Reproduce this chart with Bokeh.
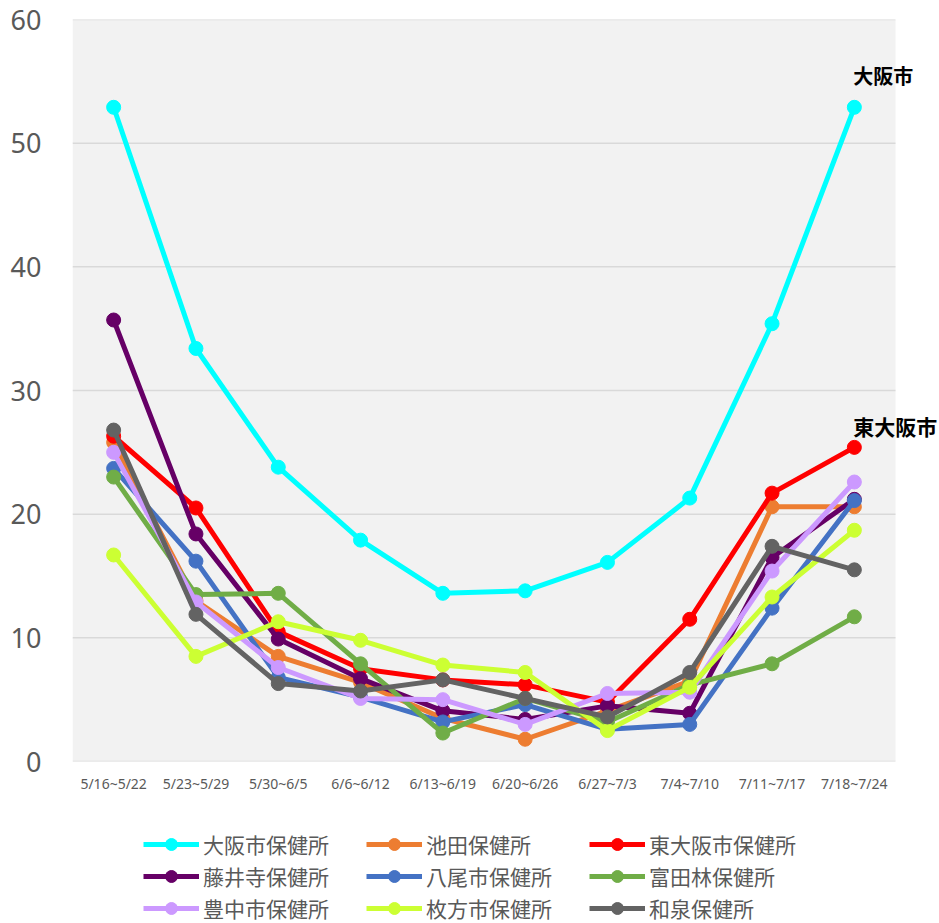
from bokeh.plotting import figure
from bokeh.layouts import column
from bokeh.models import (ColumnDataSource, Legend, LegendItem, Range1d, Label,
                          FixedTicker, BoxAnnotation)
from bokeh.embed import file_html
from bokeh.resources import INLINE

cats = ["5/16~5/22", "5/23~5/29", "5/30~6/5", "6/6~6/12", "6/13~6/19",
        "6/20~6/26", "6/27~7/3", "7/4~7/10", "7/11~7/17", "7/18~7/24"]

osaka = [52.9, 33.4, 23.8, 17.9, 13.6, 13.8, 16.1, 21.3, 35.4, 52.9]
ikeda = [25.8, 13.0, 8.5, 6.4, 3.5, 1.8, 4.1, 6.5, 20.6, 20.6]
higashiosaka = [26.3, 20.5, 10.5, 7.5, 6.6, 6.2, 4.8, 11.5, 21.7, 25.4]
fujiidera = [35.7, 18.4, 9.9, 6.7, 4.1, 3.4, 4.5, 3.9, 16.5, 21.2]
yao = [23.7, 16.2, 6.8, 5.2, 3.2, 4.6, 2.6, 3.0, 12.4, 21.1]
tondabayashi = [23.0, 13.5, 13.6, 7.9, 2.3, 5.1, 3.2, 6.2, 7.9, 11.7]
toyonaka = [25.0, 12.9, 7.6, 5.1, 5.0, 3.0, 5.5, 5.6, 15.4, 22.6]
hirakata = [16.7, 8.5, 11.3, 9.8, 7.8, 7.2, 2.5, 6.0, 13.3, 18.7]
izumi = [26.8, 11.9, 6.3, 5.7, 6.6, 5.1, 3.6, 7.2, 17.4, 15.5]

names = ["大阪市保健所", "池田保健所", "東大阪市保健所",
         "藤井寺保健所", "八尾市保健所", "富田林保健所",
         "豊中市保健所", "枚方市保健所", "和泉保健所"]
series = [osaka, ikeda, higashiosaka, fujiidera, yao, tondabayashi,
          toyonaka, hirakata, izumi]
colors = ["#00FFFF", "#ED7D31", "#FF0000", "#660066", "#4472C4", "#70AD47",
          "#CC99FF", "#CCFF33", "#636363"]

callouts = ["大阪市", "東大阪市"]

y_ticks = [0, 10, 20, 30, 40, 50, 60]

JP = "Noto Sans CJK JP"
W = 939
n = len(cats)
xs = list(range(n))
# room to the right of the plotting area (for the callout texts), in category units
extra_units = 44 / 82.3

p = figure(width=W, height=795, x_range=Range1d(-0.5, n - 0.5 + extra_units),
           y_range=Range1d(0, 60), output_backend="svg", toolbar_location=None,
           min_border_left=72, min_border_right=0, min_border_top=19,
           min_border_bottom=30)
p.background_fill_color = "white"
p.border_fill_color = "white"
p.outline_line_color = None
p.xgrid.visible = False
p.ygrid.visible = False

# plotting-area background (spans the categories only)
p.add_layout(BoxAnnotation(right=n - 0.5, fill_color="#F2F2F2", fill_alpha=1,
                           line_color=None, level="underlay"))
# horizontal gridlines across the category span
p.segment(x0=-0.5, x1=n - 0.5, y0=y_ticks, y1=y_ticks,
          line_color="#D9D9D9", line_width=1.5)

p.yaxis.ticker = FixedTicker(ticks=y_ticks)
p.xaxis.ticker = FixedTicker(ticks=xs)
p.xaxis.major_label_overrides = {i: c for i, c in zip(xs, cats)}

for ax in (p.xaxis, p.yaxis):
    ax.axis_line_color = None
    ax.major_tick_line_color = None
    ax.minor_tick_line_color = None
    ax.major_label_text_color = "#595959"
    ax.major_label_text_font = "Noto Sans"
p.yaxis.major_label_text_font_size = "27px"
p.yaxis.major_label_standoff = 25
p.xaxis.major_label_text_font_size = "14px"
p.xaxis.major_label_standoff = 6

# legend-only figure below the chart
leg = figure(width=W, height=128, x_axis_location=None, y_axis_location=None,
             output_backend="svg", toolbar_location=None,
             min_border_left=0, min_border_right=0, min_border_top=0,
             min_border_bottom=0)
leg.grid.visible = False
leg.outline_line_color = None
leg.background_fill_color = "white"
leg.border_fill_color = "white"

items = []
for name, vals, col in zip(names, series, colors):
    src = ColumnDataSource(dict(x=xs, y=vals))
    p.line("x", "y", source=src, line_color=col, line_width=5)
    p.scatter("x", "y", source=src, size=14, fill_color=col, line_color=col)
    l1 = leg.line("x", "y", source=src, line_color=col, line_width=5, visible=False)
    l2 = leg.scatter("x", "y", source=src, size=14, fill_color=col,
                     line_color=col, visible=False)
    items.append(LegendItem(label=name, renderers=[l1, l2]))

legend = Legend(items=items, orientation="horizontal", ncols=3,
                location=(71, 0), padding=0, margin=0,
                border_line_color=None, background_fill_alpha=0,
                label_text_font=JP, label_text_font_size="21px",
                label_text_color="#595959", glyph_width=56, glyph_height=30,
                label_standoff=4, spacing=2, label_height=30, label_width=161)
leg.add_layout(legend, "center")

p.add_layout(Label(x=xs[-1], y=osaka[-1], text=callouts[0], text_font=JP,
                   text_font_style="bold", text_font_size="20px",
                   text_color="black", text_align="left",
                   text_baseline="bottom", x_offset=-1, y_offset=17))
p.add_layout(Label(x=xs[-1], y=higashiosaka[-1], text=callouts[1], text_font=JP,
                   text_font_style="bold", text_font_size="21px",
                   text_color="black", text_align="left",
                   text_baseline="bottom", x_offset=-1, y_offset=6))

layout = column(p, leg, spacing=0)
open("out.html", "w").write(file_html(layout, INLINE))
